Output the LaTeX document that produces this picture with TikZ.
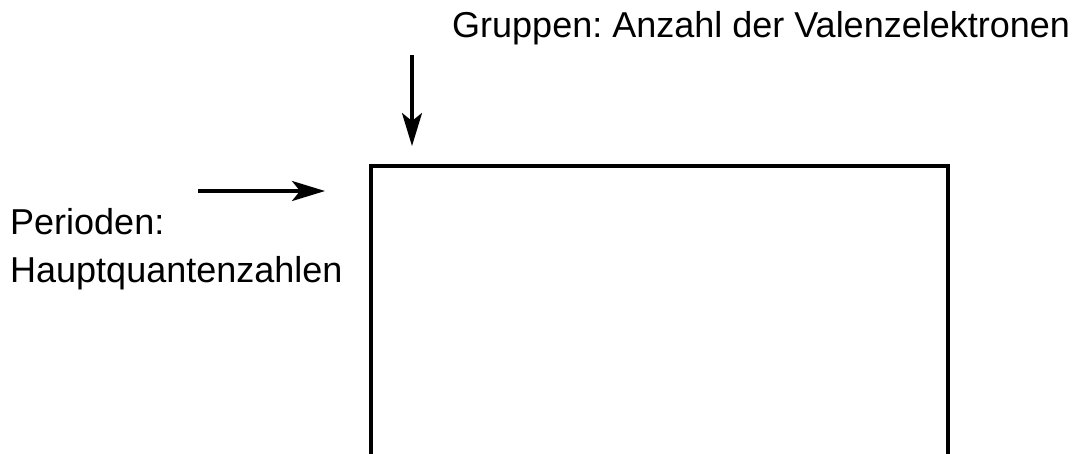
\documentclass[tikz,border=0pt]{standalone}
\usepackage{fontspec}
\setmainfont{Liberation Sans}
\usetikzlibrary{arrows.meta}
\frenchspacing
\begin{document}
\begin{tikzpicture}[x=1pt,y=-1pt,
  lbl/.style={anchor=base west,inner sep=0pt,font=\fontsize{36}{42}\selectfont\frenchspacing},
  arr/.style={line width=3.2pt,-{Stealth[length=33pt,width=20pt,inset=8pt]}},
  box/.style={line width=3.2pt}]
\useasboundingbox (0,0) rectangle (1083,453);
\node[lbl] (grp) at (452,37) {Gruppen: Anzahl der Valenzelektronen};
\node[lbl] (per1) at (10,234) {Perioden:};
\node[lbl] (per2) at (10,282) {Hauptquantenzahlen};
\coordinate (dstart) at (412,55);
\coordinate (dend) at (412,146);
\coordinate (rstart) at (198,191);
\coordinate (rend) at (325,191);
\coordinate (bl) at (371,460);
\coordinate (tl) at (371,166);
\coordinate (tr) at (948,166);
\coordinate (br) at (948,460);
\draw[arr] (dstart) -- (dend);
\draw[arr] (rstart) -- (rend);
\draw[box] (bl) -- (tl) -- (tr) -- (br);
\end{tikzpicture}
\end{document}
